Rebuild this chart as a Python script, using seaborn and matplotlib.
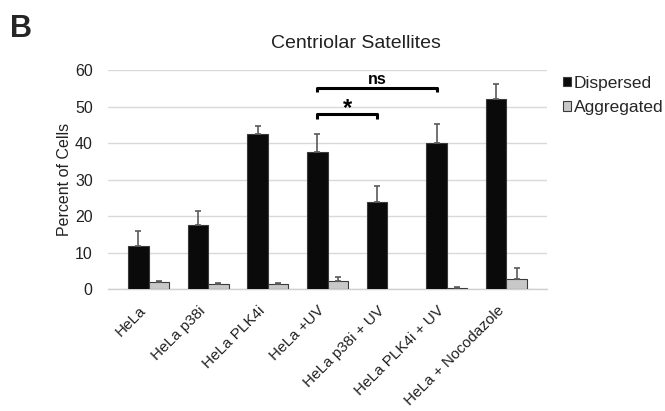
import matplotlib
matplotlib.use("Agg")
import matplotlib.pyplot as plt
import numpy as np
import pandas as pd
import seaborn as sns
from matplotlib.patches import Patch

categories = ["HeLa", "HeLa p38i", "HeLa PLK4i", "HeLa +UV",
              "HeLa p38i + UV", "HeLa PLK4i + UV", "HeLa + Nocodazole"]
dispersed = [11.8, 17.7, 42.5, 37.5, 23.8, 40.1, 52.2]
dispersed_err = [4.1, 3.8, 2.2, 5.0, 4.6, 5.2, 4.0]
aggregated = [1.8, 1.4, 1.4, 2.1, 0.0, 0.4, 2.8]
aggregated_err = [0.4, 0.2, 0.2, 1.2, 0.0, 0.2, 3.0]
series = ["Dispersed", "Aggregated"]
colors = {"Dispersed": "#0a0a0a", "Aggregated": "#c8c8c8"}

df = pd.DataFrame({
    "condition": categories * 2,
    "series": ["Dispersed"] * len(categories) + ["Aggregated"] * len(categories),
    "value": dispersed + aggregated,
    "err": dispersed_err + aggregated_err,
})

sns.set_theme(style="white")
plt.rcParams["font.family"] = ["Liberation Sans", "DejaVu Sans"]

fig = plt.figure(figsize=(6.65, 4.11), dpi=100)
ax = fig.add_axes([0.1624, 0.2968, 0.6602, 0.5317])

sns.barplot(data=df, x="condition", y="value", hue="series", order=categories,
            hue_order=series, palette=colors, width=0.69, errorbar=None,
            edgecolor="#3a3a3a", linewidth=0.8, legend=False, ax=ax, zorder=3)

# error bars (upper side only) placed at the bar centres seaborn produced
for container, name in zip(ax.containers, series):
    sub = df[df["series"] == name].set_index("condition").loc[categories]
    keep = (sub["value"] > 0).to_numpy()
    for p, k in zip(container.patches, keep):
        if not k:
            p.set_visible(False)
    xs = np.array([p.get_x() + p.get_width() / 2 for p in container.patches])
    ax.errorbar(xs[keep], sub["value"][keep],
                yerr=[np.zeros(keep.sum()), sub["err"][keep]],
                fmt="none", ecolor="#5a5a5a", elinewidth=1.2, capsize=2,
                capthick=1.2, zorder=4)

ax.set_ylim(0, 60)
ax.set_yticks(range(0, 61, 10))
ax.yaxis.grid(True, color="#d9d9d9", linewidth=1.0, zorder=0)
ax.set_axisbelow(True)
for side in ["left", "right", "top"]:
    ax.spines[side].set_visible(False)
ax.spines["bottom"].set_color("#d0d0d0")
ax.spines["bottom"].set_linewidth(1.0)
ax.tick_params(axis="y", length=0, pad=11, labelsize=11.5, labelcolor="#222222")
ax.tick_params(axis="x", length=0, pad=10.5, labelsize=11, labelcolor="#222222")
plt.setp(ax.get_xticklabels(), rotation=45, ha="right", va="top")
ax.set_xlabel("")
ax.set_ylabel("Percent of Cells", fontsize=11.5, color="#222222", labelpad=2)

# significance brackets between dispersed bars
d_bars = ax.containers[0].patches
cx = [p.get_x() + p.get_width() / 2 for p in d_bars]


def bracket(i, j, y, drop, label, size, dy):
    ax.plot([cx[i], cx[i], cx[j], cx[j]], [y - drop, y, y, y - drop],
            color="black", linewidth=2.2, solid_capstyle="butt", zorder=5,
            clip_on=False)
    ax.text((cx[i] + cx[j]) / 2, y + dy, label, ha="center", va="bottom",
            fontsize=size, fontweight="bold", color="black")


bracket(3, 5, 55.2, 1.1, "ns", 11.5, 0.3)
bracket(3, 4, 48.1, 1.3, "*", 17, -1.8)

fig.text(0.535, 0.895, "Centriolar Satellites", fontsize=14, color="#222222",
         ha="center", va="center")

handles = [Patch(facecolor=colors[s], edgecolor="#3a3a3a", linewidth=0.8, label=s)
           for s in series]
fig.legend(handles=handles, loc="upper left", bbox_to_anchor=(0.847, 0.816),
           frameon=False, fontsize=12.5, handlelength=0.45, handleheight=0.45,
           handletextpad=0.15, labelspacing=0.55, borderaxespad=0, borderpad=0)

fig.text(0.015, 0.965, "B", fontsize=22, fontweight="bold", va="top", ha="left")

fig.savefig("out.png", dpi=100)
